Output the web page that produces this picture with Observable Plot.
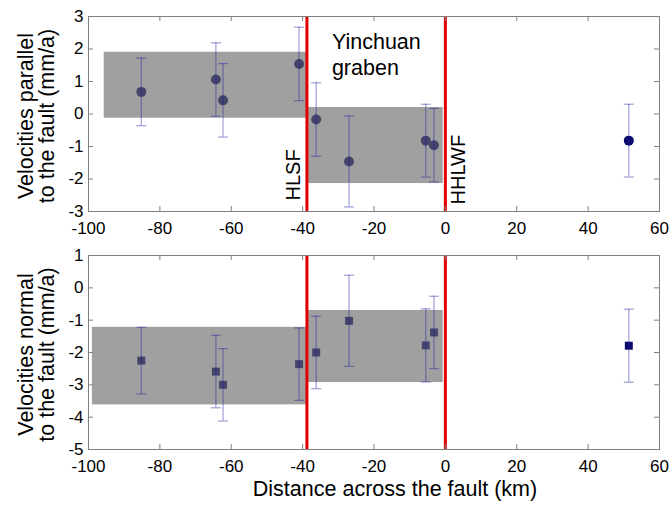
<!DOCTYPE html>
<html><head><meta charset="utf-8">
<script src="https://cdn.jsdelivr.net/npm/d3@7"></script>
<script src="https://cdn.jsdelivr.net/npm/@observablehq/plot@0.6"></script>
<style>body{margin:0;background:#fff;} #chart svg{display:block;}</style>
</head><body><div id="chart"></div>
<script>
// Station distances across the fault (km)
const distance = [-85.2, -64.3, -62.3, -41.0, -36.2, -27.0, -5.5, -3.2, 51.4];
// Fault-parallel velocities and uncertainties (mm/a)
const parallel = [0.68, 1.06, 0.42, 1.54, -0.17, -1.46, -0.82, -0.96, -0.82];
const parallelErr = [1.04, 1.13, 1.13, 1.13, 1.13, 1.40, 1.12, 1.13, 1.12];
// Fault-normal velocities and uncertainties (mm/a)
const normal = [-2.25, -2.59, -3.00, -2.36, -2.00, -1.02, -1.78, -1.38, -1.79];
const normalErr = [1.03, 1.12, 1.12, 1.12, 1.12, 1.41, 1.13, 1.12, 1.13];
// Faults
const faultNames = ["HLSF", "HHLWF"];
const faultPositions = [-38.8, 0];
// Block ranges (shaded)
const parallelBlockX1 = [-95.6, -38.8];
const parallelBlockX2 = [-38.8, -0.6];
const parallelBlockLow = [-0.13, -2.14];
const parallelBlockHigh = [1.90, 0.20];
const normalBlockX1 = [-98.9, -38.8];
const normalBlockX2 = [-38.8, -0.6];
const normalBlockLow = [-3.62, -2.93];
const normalBlockHigh = [-1.22, -0.70];
// Ticks
const xTicks = [-100, -80, -60, -40, -20, 0, 20, 40, 60];
const yTicksParallel = [-3, -2, -1, 0, 1, 2, 3];
const yTicksNormal = [-5, -4, -3, -2, -1, 0, 1];

const W = 671, ML = 88, MR = 12;
const FONT = "'Liberation Sans', Arial, Helvetica, sans-serif";
const navy = "#0a0a6e";
const barColor = "#1a1aa0";
const frameColor = "#808080";
const fmt = d => String(d);
const capSymbol = {draw(ctx, size) { const r = Math.sqrt(size / Math.PI); ctx.moveTo(-r, 0); ctx.lineTo(r, 0); }};

function panel(o) {
  const rows = distance.map((d, i) => ({x: d, v: o.values[i], e: o.errs[i]}));
  const blocks = o.bx1.map((x1, i) => ({x1, x2: o.bx2[i], y1: o.blow[i], y2: o.bhigh[i]}));
  const fh = o.height - o.marginTop - o.marginBottom;
  const fw = W - ML - MR;
  return Plot.plot({
    width: W, height: o.height,
    marginLeft: ML, marginRight: MR, marginTop: o.marginTop, marginBottom: o.marginBottom,
    style: {fontFamily: FONT, fontSize: "17px", color: "#000", background: "#fff", overflow: "visible"},
    x: {domain: [-100, 60], label: null},
    y: {domain: o.yDomain, label: null},
    marks: [
      Plot.dot(rows, {x: "x", y: "v", r: o.r, symbol: o.symbol, fill: navy, stroke: "none"}),
      Plot.rect(blocks, {x1: "x1", x2: "x2", y1: "y1", y2: "y2", fill: "#686868", fillOpacity: 0.63}),
      Plot.ruleX(rows, {x: "x", y1: d => d.v - d.e, y2: d => d.v + d.e, stroke: barColor, strokeOpacity: 0.42, strokeWidth: 1.2}),
      Plot.dot(rows, {x: "x", y: d => d.v + d.e, symbol: capSymbol, r: 5, fill: "none", stroke: barColor, strokeOpacity: 0.42, strokeWidth: 1.2}),
      Plot.dot(rows, {x: "x", y: d => d.v - d.e, symbol: capSymbol, r: 5, fill: "none", stroke: barColor, strokeOpacity: 0.42, strokeWidth: 1.2}),
      Plot.ruleX(faultPositions, {stroke: "#e00000", strokeWidth: 3}),
      Plot.frame({stroke: frameColor}),
      Plot.ruleX(xTicks, {insetTop: fh - 5, stroke: frameColor}),
      Plot.ruleX(xTicks, {insetBottom: fh - 5, stroke: frameColor}),
      Plot.ruleY(o.yTicks, {insetRight: fw - 5, stroke: frameColor}),
      Plot.ruleY(o.yTicks, {insetLeft: fw - 5, stroke: frameColor}),
      Plot.axisX(xTicks, {tickSize: 0, tickPadding: 10, label: null, tickFormat: fmt}),
      Plot.axisY(o.yTicks, {tickSize: 0, tickPadding: 5, label: null, tickFormat: fmt}),
      Plot.text([o.label], {frameAnchor: "left", text: d => d, rotate: -90, dx: -52, dy: 2, lineAnchor: "middle", textAnchor: "middle", lineHeight: 1, fontSize: 21.5}),
      ...o.extra
    ]
  });
}

const topPanel = panel({
  values: parallel, errs: parallelErr,
  bx1: parallelBlockX1, bx2: parallelBlockX2, blow: parallelBlockLow, bhigh: parallelBlockHigh,
  yDomain: [-3, 3], yTicks: yTicksParallel, symbol: "circle", r: 5,
  height: 240, marginTop: 16, marginBottom: 29,
  label: "Velocities parallel\nto the fault (mm/a)",
  extra: [
    Plot.text(["Yinchuan\ngraben"], {x: () => faultPositions[0], frameAnchor: "top", text: d => d, textAnchor: "start", lineAnchor: "top", dx: 25, dy: 14, lineHeight: 1.2, fontSize: 21.5}),
    Plot.text([faultNames[0]], {x: () => faultPositions[0], frameAnchor: "bottom", text: d => d, rotate: -90, textAnchor: "start", lineAnchor: "middle", dx: -13, dy: -11, fontSize: 20}),
    Plot.text([faultNames[1]], {x: () => faultPositions[1], frameAnchor: "bottom", text: d => d, rotate: -90, textAnchor: "start", lineAnchor: "middle", dx: 13, dy: -7, fontSize: 20})
  ]
});

const bottomPanel = panel({
  values: normal, errs: normalErr,
  bx1: normalBlockX1, bx2: normalBlockX2, blow: normalBlockLow, bhigh: normalBlockHigh,
  yDomain: [-5, 1], yTicks: yTicksNormal, symbol: "square", r: 4.5,
  height: 265, marginTop: 15, marginBottom: 56,
  label: "Velocities normal\nto the fault (mm/a)",
  extra: [
    Plot.text(["Distance across the fault (km)"], {frameAnchor: "bottom", text: d => d, lineAnchor: "top", dx: 21, dy: 31, fontSize: 21.5})
  ]
});

document.getElementById("chart").append(topPanel, bottomPanel);
</script>
</body></html>
